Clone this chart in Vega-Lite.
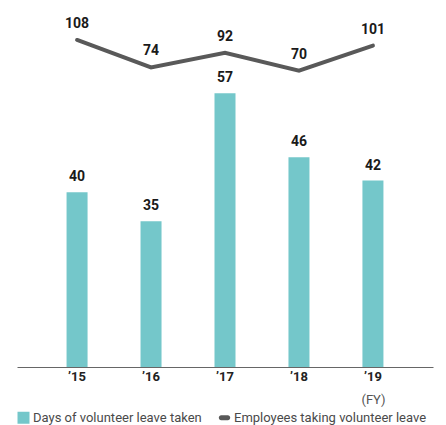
{
  "$schema": "https://vega.github.io/schema/vega-lite/v6.json",
  "width": 416,
  "height": 367,
  "padding": {"left": 17, "top": 0, "right": 13, "bottom": 0},
  "background": "white",
  "config": {
    "view": {"stroke": null},
    "font": "Roboto",
    "text": {"font": "Roboto"}
  },
  "data": {
    "values": [
      {"year": "’15", "days": 40, "employees": 108},
      {"year": "’16", "days": 35, "employees": 74},
      {"year": "’17", "days": 57, "employees": 92},
      {"year": "’18", "days": 46, "employees": 70},
      {"year": "’19", "days": 42, "employees": 101}
    ]
  },
  "encoding": {
    "x": {
      "field": "year",
      "type": "ordinal",
      "sort": null,
      "scale": {"paddingInner": 0.716, "paddingOuter": 0.67},
      "axis": {
        "title": "(FY)",
        "titleFont": "Roboto",
        "titleFontSize": 13,
        "titleFontWeight": "normal",
        "titleColor": "#555555",
        "titleAlign": "center",
        "titleBaseline": "middle",
        "titleAnchor": null,
        "titleX": 356,
        "titleY": 32,
        "labelAngle": 0,
        "labelFont": "Roboto",
        "labelFontSize": 13,
        "labelFontWeight": "bold",
        "labelColor": "#222222",
        "labelPadding": 3,
        "ticks": false,
        "domainColor": "#666666",
        "domainWidth": 1,
        "grid": false
      }
    }
  },
  "layer": [
    {
      "layer": [
        {
          "mark": {"type": "bar", "color": "#74C7CA"},
          "encoding": {
            "y": {
              "field": "days",
              "type": "quantitative",
              "scale": {"domain": [10, 73], "nice": false, "zero": false},
              "axis": null
            },
            "y2": {"datum": 10},
            "color": {
              "datum": "Days of volunteer leave taken",
              "type": "nominal",
              "scale": {
                "domain": ["Days of volunteer leave taken", "Employees taking volunteer leave"],
                "range": ["#74C7CA", "#595959"]
              },
              "legend": {
                "title": null,
                "orient": "none",
                "direction": "horizontal",
                "columns": 2,
                "legendX": 0,
                "legendY": 411,
                "padding": 0,
                "columnPadding": 16,
                "labelFont": "Roboto",
                "labelFontSize": 13,
                "labelColor": "#4a4a4a",
                "labelLimit": 300,
                "labelOffset": 3,
                "symbolSize": 144,
                "encode": {
                  "symbols": {
                    "update": {
                      "shape": {"signal": "datum.value === 'Days of volunteer leave taken' ? 'square' : 'M-0.55,-0.4L0.55,-0.4A0.4,0.4,0,0,1,0.55,0.4L-0.55,0.4A0.4,0.4,0,0,1,-0.55,-0.4Z'"},
                      "fill": {"signal": "datum.value === 'Days of volunteer leave taken' ? '#74C7CA' : '#595959'"},
                      "fillOpacity": {"value": 1},
                      "strokeWidth": {"value": 0}
                    }
                  }
                }
              }
            }
          }
        },
        {
          "mark": {"type": "text", "dy": -15, "baseline": "middle", "font": "Roboto", "fontSize": 14, "fontWeight": "bold", "color": "#1a1a1a"},
          "encoding": {
            "y": {"field": "days", "type": "quantitative"},
            "text": {"field": "days", "type": "quantitative"}
          }
        }
      ]
    },
    {
      "layer": [
        {
          "mark": {"type": "line", "color": "#595959", "strokeWidth": 4, "strokeCap": "round"},
          "encoding": {
            "y": {
              "field": "employees",
              "type": "quantitative",
              "scale": {"domain": [-297, 157.5], "nice": false, "zero": false},
              "axis": null
            },
            "color": {"datum": "Employees taking volunteer leave", "type": "nominal"}
          }
        },
        {
          "mark": {"type": "text", "dy": -16, "baseline": "middle", "font": "Roboto", "fontSize": 14, "fontWeight": "bold", "color": "#1a1a1a"},
          "encoding": {
            "y": {"field": "employees", "type": "quantitative"},
            "text": {"field": "employees", "type": "quantitative"}
          }
        }
      ]
    }
  ],
  "resolve": {"scale": {"y": "independent"}}
}
